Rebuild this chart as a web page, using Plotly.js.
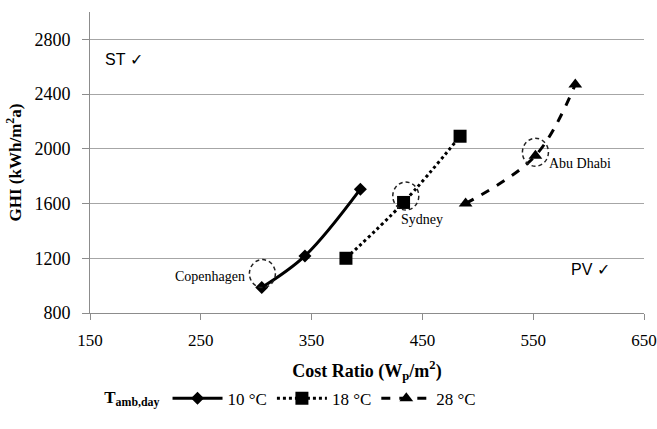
<!DOCTYPE html>
<html>
<head>
<meta charset="utf-8">
<script src="https://cdn.plot.ly/plotly-3.0.1.min.js"></script>
<style>html,body{margin:0;padding:0;background:#fff;}#chart{width:657px;height:429px;}</style>
</head>
<body>
<div id="chart"></div>
<script>
// Series data: Cost Ratio (Wp/m2) vs GHI (kWh/m2a)
const seriesNames = ['10 °C', '18 °C', '28 °C'];
const costRatio10 = [305, 344, 394];
const ghi10 = [986, 1217, 1705];
const costRatio18 = [381, 433, 484];
const ghi18 = [1200, 1608, 2092];
const costRatio28 = [489, 552, 588];
const ghi28 = [1600, 1950, 2470];

// Highlighted cities
const cityNames = ['Copenhagen', 'Sydney', 'Abu Dhabi'];
const cityCost = [305.6, 435, 552];
const cityGHI = [1088, 1655, 1975];

const xTicks = [150, 250, 350, 450, 550, 650];
const yTicks = [800, 1200, 1600, 2000, 2400, 2800];

const serif = 'Liberation Serif';
const sans = 'Liberation Sans';

const markerSymbols = ['diamond', 'square', 'triangle-up'];
const markerSizes = [10, 13, 12];
const dashes = ['solid', 'dot', 'dash'];
const xs = [costRatio10, costRatio18, costRatio28];
const ys = [ghi10, ghi18, ghi28];

const traces = seriesNames.map((n, i) => ({
  x: xs[i], y: ys[i], name: n, type: 'scatter', mode: 'lines+markers',
  line: {color: '#000', width: 3, dash: dashes[i], shape: 'spline', smoothing: 1},
  marker: {symbol: markerSymbols[i], size: markerSizes[i], color: '#000'}
}));

const circleShapes = cityNames.map((c, i) => ({
  type: 'circle', xref: 'x', yref: 'y', xsizemode: 'pixel', ysizemode: 'pixel',
  xanchor: cityCost[i], yanchor: cityGHI[i], x0: -13, x1: 13, y0: -14, y1: 14,
  line: {color: '#222', width: 1.5, dash: '4px,3px'}
}));

const cityLabelCfg = [
  {xanchor: 'right', xshift: -15, yshift: -3},
  {xanchor: 'left', xshift: -7, yshift: -23},
  {xanchor: 'left', xshift: 12, yshift: -11}
];
const cityAnn = cityNames.map((c, i) => ({
  x: cityCost[i], y: cityGHI[i], xref: 'x', yref: 'y', text: c, showarrow: false,
  xanchor: cityLabelCfg[i].xanchor, yanchor: 'middle',
  xshift: cityLabelCfg[i].xshift, yshift: cityLabelCfg[i].yshift,
  font: {family: serif, size: 14, color: '#000'}
}));

const layout = {
  width: 657, height: 429,
  margin: {l: 90, r: 13, t: 12, b: 107},
  paper_bgcolor: '#fff', plot_bgcolor: '#fff',
  font: {family: serif, color: '#000'},
  showlegend: true,
  xaxis: {
    range: [150, 650], tickvals: xTicks, ticktext: xTicks.map(String),
    showgrid: false, zeroline: false, showline: true, linecolor: '#8c8c8c', linewidth: 1,
    ticks: 'outside', ticklen: 6, tickcolor: '#8c8c8c', ticklabelstandoff: 6,
    tickfont: {family: serif, size: 17, color: '#000'},
    title: {text: '<b>Cost Ratio (W<sub>p</sub>/m<sup>2</sup>)</b>', font: {family: serif, size: 18, color: '#000'}, standoff: 14}
  },
  yaxis: {
    range: [800, 3000], tickvals: yTicks, ticktext: yTicks.map(String),
    showgrid: true, gridcolor: '#a6a6a6', gridwidth: 1, zeroline: false,
    showline: true, linecolor: '#8c8c8c', linewidth: 1,
    ticks: 'outside', ticklen: 7, tickcolor: '#8c8c8c', ticklabelstandoff: 8,
    tickfont: {family: serif, size: 18, color: '#000'},
    title: {text: '<b>GHI (kWh/m<sup>2</sup>a)</b>', font: {family: serif, size: 17, color: '#000'}, standoff: 8}
  },
  legend: {
    orientation: 'h', x: 0.022, xanchor: 'left', y: -0.285, yanchor: 'middle',
    font: {family: serif, size: 17, color: '#000'},
    title: {text: '<b>T<sub>amb,day</sub></b>', side: 'left', font: {family: serif, size: 17, color: '#000'}},
    itemwidth: 50, tracegroupgap: 0, bgcolor: 'rgba(0,0,0,0)'
  },
  shapes: circleShapes,
  annotations: cityAnn.concat([
    {xref: 'paper', yref: 'paper', x: 0.023, y: 0.842, xanchor: 'left', yanchor: 'middle',
     text: 'ST ✓', showarrow: false, font: {family: sans, size: 16, color: '#000'}},
    {xref: 'paper', yref: 'paper', x: 0.864, y: 0.145, xanchor: 'left', yanchor: 'middle',
     text: 'PV ✓', showarrow: false, font: {family: sans, size: 16, color: '#000'}}
  ])
};

Plotly.newPlot('chart', traces, layout, {displayModeBar: false, staticPlot: true});
</script>
</body>
</html>
